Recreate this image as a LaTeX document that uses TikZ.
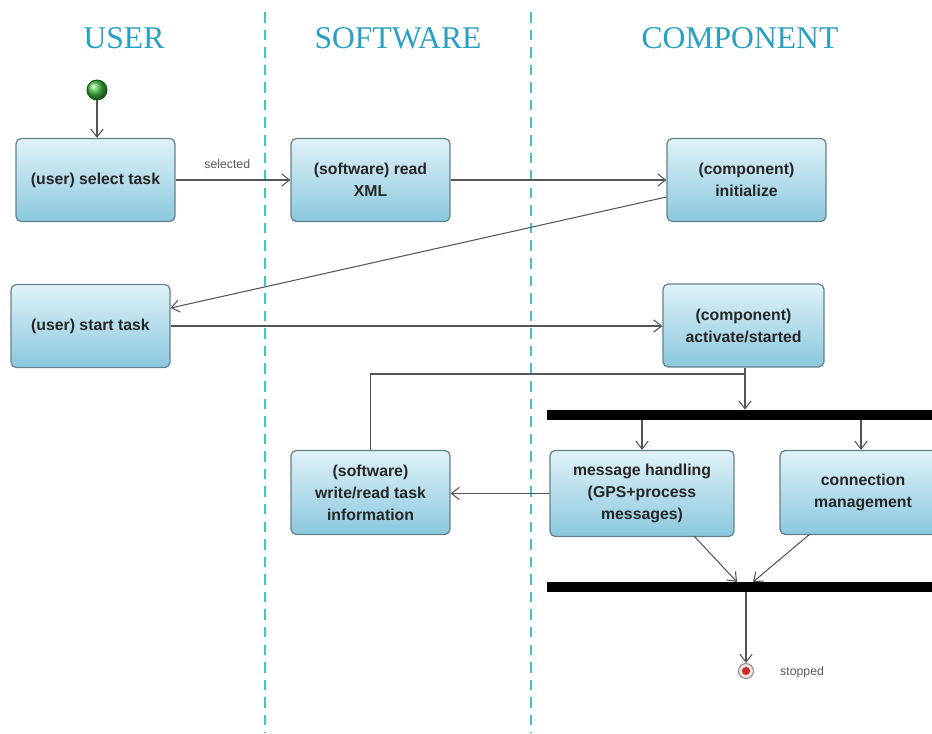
\documentclass[tikz,border=0pt]{standalone}
\usepackage{fontspec}
\setmainfont{Liberation Serif}
\newfontfamily\boxfont{Liberation Sans}
\usetikzlibrary{arrows.meta,shapes.geometric}
\definecolor{hdr}{RGB}{40,160,195}
\definecolor{lane}{RGB}{70,195,195}
\definecolor{btop}{RGB}{224,242,248}
\definecolor{bbot}{RGB}{138,200,222}
\definecolor{bdr}{RGB}{100,128,138}
\definecolor{conn}{RGB}{85,85,85}
\definecolor{startg}{RGB}{70,190,70}
\tikzset{
  actbox/.style={draw=bdr, line width=0.7pt, rounded corners=3pt, top color=btop, bottom color=bbot,
    minimum width=3.18cm, minimum height=1.66cm, align=center,
    font=\boxfont\bfseries\fontsize{9}{12.5}\selectfont, text=black!85},
  bar/.style={fill=black, draw=none, minimum width=8cm, minimum height=0.2cm, inner sep=0pt},
  flow/.style={draw=conn, line width=0.6pt, -{Straight Barb[length=4.5pt,width=7pt]}},
  plain/.style={draw=conn, line width=0.6pt},
  header/.style={text=hdr, font=\fontsize{18}{20}\selectfont},
  small/.style={text=black!65, font=\boxfont\fontsize{7}{8}\selectfont},
  lanesep/.style={draw=lane, line width=1.3pt, dash pattern=on 6pt off 4pt}
}
\begin{document}
\begin{tikzpicture}[x=0.02cm,y=-0.02cm]
\clip (0,0) rectangle (932,733);
\fill[white] (0,0) rectangle (932,733);
% lanes
\draw[lanesep] (265,12) -- (265,733);
\draw[lanesep] (531,12) -- (531,733);
\node[header] (hu) at (124,38) {USER};
\node[header] (hs) at (398,38) {SOFTWARE};
\node[header] (hc) at (740,38) {COMPONENT};
% nodes
\node[circle, minimum size=0.4cm, inner sep=0pt, ball color=startg, draw=green!35!black, line width=0.5pt] (start) at (97,90) {};
\node[actbox] (sel) at (95.5,180) {(user) select task};
\node[actbox] (xml) at (370.5,180) {(software) read\\XML};
\node[actbox] (init) at (746.5,180) {(component)\\initialize};
\node[actbox] (st) at (90.5,326) {(user) start task};
\node[actbox, minimum width=3.22cm] (act) at (743.5,325.5) {(component)\\activate/started};
\node[actbox, minimum height=1.68cm] (wr) at (370.5,492.5) {(software)\\write/read task\\information};
\node[actbox, minimum width=3.68cm, minimum height=1.72cm] (msg) at (642,493.5) {message handling\\(GPS+process\\messages)};
\node[actbox, minimum width=3.32cm, minimum height=1.68cm] (cm) at (863,492.5) {connection\\management};
\node[bar] (bar1) at (747,415) {};
\node[bar] (bar2) at (747,587) {};
\node[circle, minimum size=0.3cm, inner sep=0pt, draw=black!45, fill=red!12, line width=0.6pt] (end) at (746,671) {};
\node[circle, minimum size=0.16cm, inner sep=0pt, fill=red!75!black!85] (endin) at (end) {};
\node[small, anchor=west] (stoplbl) at (774,672) {stopped};
% connectors
\draw[flow] (start) -- (start |- sel.north);
\draw[flow] (sel) -- node[small, above=3pt, pos=0.45] (sellbl) {selected} (xml);
\draw[flow] (xml) -- (init);
\draw[flow] ([yshift=-0.34cm]init.west) -- ([yshift=0.36cm]st.east);
\draw[flow] (st.east) -- (st.east -| act.west);
\coordinate (join) at (745,374);
\draw[plain] (wr.north) |- (join);
\draw[flow] (act.south -| join) -- (join |- bar1.north);
\draw[flow] (msg.north |- bar1.south) -- (msg.north);
\draw[flow] (861,420) -- (cm.north -| 861,0);
\draw[flow] (msg.west) -- (msg.west -| wr.east);
\draw[flow] (694,536) -- (737,582);
\draw[flow] (810,534) -- (753,582);
\draw[flow] (end |- bar2.south) -- (end.north);
\end{tikzpicture}
\end{document}
